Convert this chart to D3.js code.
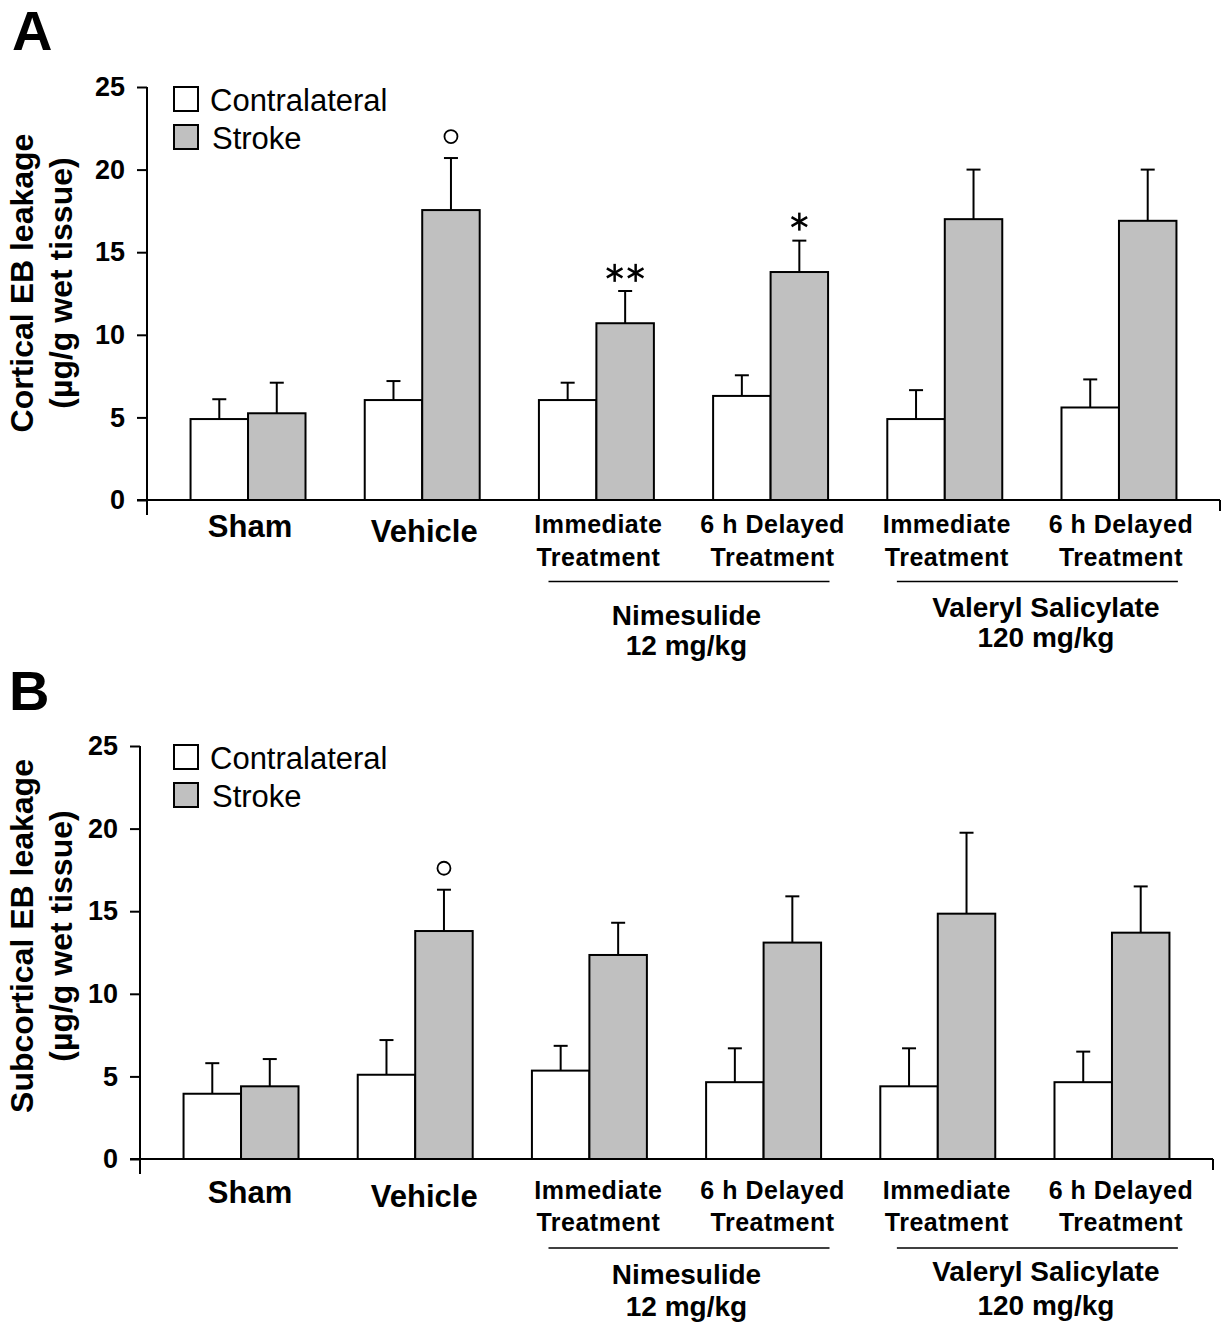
<!DOCTYPE html>
<html>
<head>
<meta charset="utf-8">
<script src="https://cdn.jsdelivr.net/npm/d3@7"></script>
<style>
  html, body { margin: 0; padding: 0; background: #fff; }
  svg { display: block; }
  text { font-family: "Liberation Sans", Arial, Helvetica, sans-serif; fill: #000; }
</style>
</head>
<body>
<script>
// ---------------- DATA ----------------
const groups = ["Sham", "Vehicle", "Nimesulide Immediate", "Nimesulide 6 h Delayed", "Valeryl Immediate", "Valeryl 6 h Delayed"];
const groupLabelLines = [["Sham"], ["Vehicle"], ["Immediate", "Treatment"], ["6 h Delayed", "Treatment"], ["Immediate", "Treatment"], ["6 h Delayed", "Treatment"]];
const drugGroups = [
  { lines: ["Nimesulide", "12 mg/kg"], from: 2, to: 3 },
  { lines: ["Valeryl Salicylate", "120 mg/kg"], from: 4, to: 5 }
];
const seriesNames = ["Contralateral", "Stroke"];
const yTicks = [0, 5, 10, 15, 20, 25];

// Panel A: Cortical EB leakage (µg/g wet tissue)
const corticalContra    = [4.9, 6.05, 6.05, 6.3, 4.9, 5.6];
const corticalContraSEM = [1.2, 1.15, 1.05, 1.25, 1.75, 1.7];
const corticalStroke    = [5.25, 17.55, 10.7, 13.8, 17.0, 16.9];
const corticalStrokeSEM = [1.85, 3.15, 1.95, 1.9, 3.0, 3.1];
const corticalMarks = [
  { group: 1, symbol: "circle", value: 22.0 },
  { group: 2, symbol: "**", value: 13.75 },
  { group: 3, symbol: "*", value: 16.85 }
];

// Panel B: Subcortical EB leakage (µg/g wet tissue)
const subcorticalContra    = [3.95, 5.1, 5.35, 4.65, 4.4, 4.65];
const subcorticalContraSEM = [1.85, 2.1, 1.5, 2.05, 2.3, 1.85];
const subcorticalStroke    = [4.4, 13.8, 12.35, 13.1, 14.85, 13.7];
const subcorticalStrokeSEM = [1.65, 2.5, 1.95, 2.8, 4.9, 2.8];
const subcorticalMarks = [
  { group: 1, symbol: "circle", value: 17.6 }
];

// ---------------- DRAW ----------------
const W = 1225, H = 1324;
const svg = d3.select("body").append("svg").attr("width", W).attr("height", H);
svg.append("rect").attr("width", W).attr("height", H).attr("fill", "#fff");

const FILLS = ["#ffffff", "#c0c0c0"];

function drawPanel(p) {
  const g = svg.append("g");
  const x = d3.scaleBand().domain(groups)
    .range([p.axisX, p.axisX + 1073]).paddingInner(0).paddingOuter(0.08);
  const y = d3.scaleLinear().domain([0, 25]).range([p.y0, p.y0 - 413]);
  const bw = x.step() * 0.33;
  const cx = i => x(groups[i]) + x.bandwidth() / 2;

  // panel letter
  g.append("text").attr("x", p.letterX).attr("y", p.letterY)
    .attr("font-size", 56).attr("font-weight", "bold").text(p.letter);

  // y axis
  const yAxis = d3.axisLeft(y).tickValues(yTicks).tickSize(10).tickPadding(12).tickSizeOuter(0);
  const ya = g.append("g").attr("transform", `translate(${p.axisX},0)`).call(yAxis);
  ya.select(".domain").remove();
  ya.selectAll(".tick line").attr("stroke", "#000").attr("stroke-width", 2);
  ya.selectAll(".tick text").attr("font-size", 27).attr("font-weight", "bold")
    .attr("font-family", "Liberation Sans, Arial, sans-serif").attr("fill", "#000");
  g.append("line").attr("x1", p.axisX).attr("x2", p.axisX)
    .attr("y1", y(25)).attr("y2", y(0) + 15).attr("stroke", "#000").attr("stroke-width", 2);

  // x axis
  const xEnd = x.range()[1];
  g.append("line").attr("x1", p.axisX - 10).attr("x2", xEnd)
    .attr("y1", y(0)).attr("y2", y(0)).attr("stroke", "#000").attr("stroke-width", 2);
  g.append("line").attr("x1", xEnd).attr("x2", xEnd)
    .attr("y1", y(0)).attr("y2", y(0) + 11).attr("stroke", "#000").attr("stroke-width", 2);

  // y axis title
  p.title.forEach((t, k) => {
    g.append("text")
      .attr("transform", `translate(${p.titleX[k]},${p.titleY}) rotate(-90)`)
      .attr("text-anchor", "middle").attr("font-size", 32).attr("font-weight", "bold")
      .text(t);
  });

  // bars + error bars
  const series = [
    { vals: p.contra, sem: p.contraSEM, side: -1, fill: FILLS[0] },
    { vals: p.stroke, sem: p.strokeSEM, side: 0, fill: FILLS[1] }
  ];
  series.forEach(s => {
    const gs = g.append("g");
    gs.selectAll("line.err").data(s.vals).join("line")
      .attr("x1", (d, i) => cx(i) + s.side * bw + bw / 2)
      .attr("x2", (d, i) => cx(i) + s.side * bw + bw / 2)
      .attr("y1", d => y(d))
      .attr("y2", (d, i) => y(d + s.sem[i]))
      .attr("stroke", "#000").attr("stroke-width", 2);
    gs.selectAll("line.cap").data(s.vals).join("line")
      .attr("x1", (d, i) => cx(i) + s.side * bw + bw / 2 - 7)
      .attr("x2", (d, i) => cx(i) + s.side * bw + bw / 2 + 7)
      .attr("y1", (d, i) => y(d + s.sem[i]))
      .attr("y2", (d, i) => y(d + s.sem[i]))
      .attr("stroke", "#000").attr("stroke-width", 2);
    gs.selectAll("rect").data(s.vals).join("rect")
      .attr("x", (d, i) => cx(i) + s.side * bw)
      .attr("width", bw)
      .attr("y", d => y(d))
      .attr("height", d => y(0) - y(d))
      .attr("fill", s.fill).attr("stroke", "#000").attr("stroke-width", 2);
  });

  // significance marks
  p.marks.forEach(m => {
    const mx = cx(m.group) + bw / 2;
    const my = y(m.value);
    if (m.symbol === "circle") {
      g.append("circle").attr("cx", mx).attr("cy", my).attr("r", 6.5)
        .attr("fill", "none").attr("stroke", "#000").attr("stroke-width", 1.8);
    } else {
      const n = m.symbol.length;
      const gap = 21;
      for (let k = 0; k < n; k++) {
        const sx = mx + (k - (n - 1) / 2) * gap;
        const r = 9;
        [90, 30, -30].forEach(a => {
          const rad = a * Math.PI / 180;
          g.append("line")
            .attr("x1", sx - r * Math.cos(rad)).attr("y1", my - r * Math.sin(rad))
            .attr("x2", sx + r * Math.cos(rad)).attr("y2", my + r * Math.sin(rad))
            .attr("stroke", "#000").attr("stroke-width", 2.5);
        });
      }
    }
  });

  // legend
  seriesNames.forEach((name, k) => {
    const ly = p.legendY[k];
    g.append("rect").attr("x", 174).attr("y", ly).attr("width", 24).attr("height", 24)
      .attr("fill", FILLS[k]).attr("stroke", "#000").attr("stroke-width", 2);
    g.append("text").attr("x", k === 0 ? 210 : 212).attr("y", ly + 24)
      .attr("font-size", 31).text(name);
  });

  // category labels
  groupLabelLines.forEach((lines, i) => {
    const lx = cx(i) + p.labelShift;
    if (lines.length === 1) {
      g.append("text").attr("x", lx).attr("y", y(0) + p.bigBase[i])
        .attr("text-anchor", "middle").attr("font-size", 31).attr("font-weight", "bold")
        .text(lines[0]);
    } else {
      lines.forEach((t, k) => {
        g.append("text").attr("x", lx).attr("y", y(0) + p.smallBase[k])
          .attr("text-anchor", "middle").attr("font-size", 25).attr("font-weight", "bold")
          .attr("letter-spacing", 0.5)
          .text(t);
      });
    }
  });

  // drug group labels
  drugGroups.forEach((dg, j) => {
    const mid = (cx(dg.from) + cx(dg.to)) / 2;
    g.append("line")
      .attr("x1", mid - 140.5 + p.labelShift + 3.5).attr("x2", mid + 140.5 + p.labelShift + 3.5)
      .attr("y1", y(0) + p.lineOff).attr("y2", y(0) + p.lineOff)
      .attr("stroke", "#000").attr("stroke-width", 1.6);
    dg.lines.forEach((t, k) => {
      g.append("text").attr("x", mid + p.labelShift + p.drugDx[j])
        .attr("y", y(0) + p.drugBase[j][k])
        .attr("text-anchor", "middle").attr("font-size", 28).attr("font-weight", "bold")
        .text(t);
    });
  });
}

drawPanel({
  letter: "A", letterX: 12, letterY: 50,
  axisX: 147, y0: 500,
  title: ["Cortical EB leakage", "(\u00b5g/g wet tissue)"], titleX: [33, 72], titleY: 283,
  contra: corticalContra, contraSEM: corticalContraSEM,
  stroke: corticalStroke, strokeSEM: corticalStrokeSEM,
  marks: corticalMarks,
  legendY: [87, 125],
  labelShift: 2,
  bigBase: [37, 42], smallBase: [33, 65.5],
  lineOff: 81.5,
  drugDx: [1, 12],
  drugBase: [[125, 155], [116.5, 146.5]]
});

drawPanel({
  letter: "B", letterX: 9, letterY: 710,
  axisX: 140, y0: 1159,
  title: ["Subcortical EB leakage", "(\u00b5g/g wet tissue)"], titleX: [33, 72], titleY: 936,
  contra: subcorticalContra, contraSEM: subcorticalContraSEM,
  stroke: subcorticalStroke, strokeSEM: subcorticalStrokeSEM,
  marks: subcorticalMarks,
  legendY: [745, 783],
  labelShift: 9,
  bigBase: [44, 48], smallBase: [39.5, 71.5],
  lineOff: 89,
  drugDx: [1, 12],
  drugBase: [[125, 157], [122, 156]]
});
</script>
</body>
</html>
